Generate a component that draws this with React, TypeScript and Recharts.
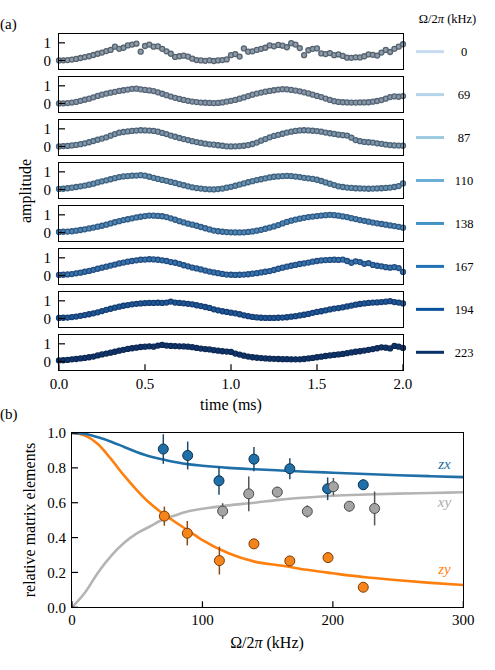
import React from "react";
import { ComposedChart, ErrorBar, Line, Scatter, ScatterChart, XAxis, YAxis } from "recharts";

const serif = "Liberation Serif, Tinos, Times New Roman, Times, DejaVu Serif, serif";

// ---- panel (a): population traces, one row per drive strength ----
const times = Array.from({ length: 81 }, (_, i) => (i * 25) / 1000);
const timeTicks = [0, 0.5, 1, 1.5, 2];
const drives = [0, 69, 87, 110, 138, 167, 194, 223];
const fitColors = ["#c6dbef", "#b6d4e9", "#9ecae1", "#6baed6", "#4292c6", "#2171b5", "#08519c", "#08306b"];
const markerFills = ["#8d9bab", "#8798aa", "#7f96ab", "#6a92b0", "#4f86b5", "#3574ad", "#1d5898", "#0f356c"];
const markerEdges = ["#56636f", "#566576", "#4d6478", "#3e627f", "#2f5a84", "#234d80", "#163d72", "#0c2853"];

const amp0 = [
  0.0, 0.01, 0.02, 0.05, 0.09, 0.14, 0.19, 0.24, 0.31, 0.38,
  0.45, 0.53, 0.6, 0.78, 0.66, 0.72, 0.85, 0.9, 0.95, 0.5,
  0.82, 0.9, 0.78, 0.8, 0.66, 0.52, 0.38, 0.2, 0.24, 0.27,
  0.22, 0.1, 0.02, 0.0, -0.02, 0.01, -0.03, 0.0, 0.02, 0.06,
  0.3, 0.36, 0.22, 0.68, 0.5, 0.52, 0.6, 0.66, 0.72, 0.85,
  0.8, 0.88, 0.84, 0.75, 0.98, 0.9, 0.7, 0.3, 0.58, 0.66,
  0.68, 0.4, 0.36, 0.42, 0.3, 0.34, 0.26, 0.16, 0.15, 0.18,
  0.17, 0.24, 0.34, 0.32, 0.28, 0.45, 0.6, 0.48, 0.66, 0.78,
  0.92
];
const amp1 = [
  0.0, 0.01, 0.02, 0.05, 0.09, 0.15, 0.21, 0.27, 0.35, 0.43,
  0.5, 0.56, 0.61, 0.66, 0.71, 0.75, 0.79, 0.83, 0.84, 0.8,
  0.77, 0.74, 0.7, 0.63, 0.55, 0.47, 0.39, 0.32, 0.26, 0.2,
  0.15, 0.11, 0.08, 0.05, 0.04, 0.03, 0.02, 0.03, 0.06, 0.11,
  0.15, 0.2, 0.27, 0.34, 0.42, 0.5, 0.56, 0.62, 0.67, 0.71,
  0.75, 0.79, 0.81, 0.8, 0.77, 0.73, 0.69, 0.63, 0.57, 0.5,
  0.43, 0.36, 0.28, 0.2, 0.13, 0.09, 0.07, 0.06, 0.05, 0.05,
  0.06, 0.06, 0.07, 0.1, 0.14, 0.19, 0.27, 0.36, 0.4, 0.38,
  0.42
];
const amp2 = [
  0.0, 0.02, 0.03, 0.06, 0.09, 0.13, 0.18, 0.24, 0.31, 0.38,
  0.45, 0.52, 0.61, 0.7, 0.78, 0.82, 0.85, 0.88, 0.9, 0.92,
  0.91, 0.9, 0.88, 0.84, 0.77, 0.7, 0.62, 0.55, 0.48, 0.42,
  0.36, 0.3, 0.25, 0.2, 0.16, 0.12, 0.1, 0.07, 0.04, 0.01,
  0.0, 0.01, 0.02, 0.04, 0.08, 0.14, 0.22, 0.33, 0.42, 0.52,
  0.6, 0.66, 0.72, 0.79, 0.84, 0.88, 0.91, 0.92, 0.91, 0.89,
  0.87, 0.84, 0.79, 0.75, 0.71, 0.67, 0.64, 0.62, 0.5, 0.36,
  0.3, 0.26, 0.24, 0.22, 0.18, 0.15, 0.11, 0.08, 0.06, 0.05,
  0.04
];
const amp3 = [
  0.03, 0.04, 0.07, 0.1, 0.14, 0.18, 0.22, 0.27, 0.33, 0.4,
  0.46, 0.52, 0.58, 0.64, 0.7, 0.74, 0.76, 0.78, 0.79, 0.81,
  0.78, 0.72, 0.66, 0.6, 0.54, 0.49, 0.43, 0.37, 0.3, 0.24,
  0.18, 0.12, 0.08, 0.05, 0.02, 0.01, 0.0, 0.02, 0.05, 0.1,
  0.15, 0.21, 0.28, 0.34, 0.41, 0.47, 0.53, 0.58, 0.63, 0.68,
  0.72, 0.74, 0.76, 0.77, 0.76, 0.73, 0.7, 0.66, 0.63, 0.6,
  0.55, 0.48, 0.4, 0.33, 0.25, 0.18, 0.14, 0.11, 0.09, 0.07,
  0.06, 0.05, 0.04, 0.05, 0.06, 0.07, 0.09, 0.11, 0.14, 0.19,
  0.34
];
const amp4 = [
  0.03, 0.04, 0.05, 0.07, 0.1, 0.14, 0.18, 0.23, 0.28, 0.33,
  0.38, 0.44, 0.51, 0.58, 0.64, 0.7, 0.75, 0.8, 0.85, 0.89,
  0.93, 0.96, 0.95, 0.94, 0.92, 0.87, 0.8, 0.72, 0.64, 0.57,
  0.5, 0.44, 0.38, 0.31, 0.24, 0.17, 0.11, 0.07, 0.04, 0.02,
  0.01, 0.0, 0.0, 0.01, 0.03, 0.06, 0.1, 0.15, 0.21, 0.28,
  0.34, 0.42, 0.51, 0.6, 0.67, 0.73, 0.78, 0.83, 0.87, 0.9,
  0.93, 0.96, 0.98, 1.0, 0.98, 0.95, 0.91, 0.87, 0.81, 0.76,
  0.7, 0.66, 0.61, 0.56, 0.52, 0.48, 0.44, 0.4, 0.36, 0.32,
  0.27
];
const amp5 = [
  0.03, 0.04, 0.06, 0.08, 0.12, 0.16, 0.21, 0.26, 0.32, 0.38,
  0.44, 0.5, 0.56, 0.62, 0.68, 0.73, 0.78, 0.82, 0.86, 0.89,
  0.9, 0.92, 0.91, 0.89, 0.86, 0.82, 0.76, 0.72, 0.66, 0.58,
  0.52, 0.45, 0.4, 0.34, 0.28, 0.22, 0.17, 0.13, 0.09, 0.05,
  0.04, 0.03, 0.04, 0.05, 0.07, 0.1, 0.13, 0.17, 0.21, 0.25,
  0.31, 0.38, 0.44, 0.5, 0.55, 0.6, 0.65, 0.69, 0.73, 0.78,
  0.82, 0.85, 0.87, 0.88, 0.89, 0.88, 0.9, 0.82, 0.72, 0.8,
  0.76, 0.66, 0.7, 0.6, 0.55, 0.52, 0.47, 0.44, 0.47, 0.42,
  0.2
];
const amp6 = [
  0.03, 0.04, 0.05, 0.08, 0.11, 0.15, 0.19, 0.24, 0.29, 0.35,
  0.42, 0.49, 0.55, 0.61, 0.67, 0.72, 0.76, 0.8, 0.83, 0.85,
  0.87, 0.88, 0.88, 0.89, 0.88, 0.9, 0.96, 0.9, 0.88, 0.86,
  0.83, 0.8, 0.75, 0.7, 0.65, 0.6, 0.52, 0.46, 0.41, 0.37,
  0.33, 0.29, 0.24, 0.18, 0.13, 0.09, 0.06, 0.04, 0.03, 0.03,
  0.03, 0.04, 0.05, 0.07, 0.1, 0.13, 0.17, 0.21, 0.26, 0.32,
  0.37, 0.41, 0.46, 0.51, 0.56, 0.59, 0.63, 0.68, 0.73, 0.78,
  0.82, 0.85, 0.88, 0.9, 0.91, 0.93, 0.95, 0.98, 0.93, 0.9,
  0.85
];
const amp7 = [
  0.06, 0.07, 0.09, 0.12, 0.14, 0.17, 0.2, 0.24, 0.28, 0.34,
  0.4, 0.45, 0.5, 0.55, 0.61, 0.66, 0.71, 0.75, 0.78, 0.82,
  0.84, 0.86, 0.84, 0.9, 0.94, 0.9, 0.88, 0.87, 0.86, 0.85,
  0.84, 0.81, 0.77, 0.73, 0.7, 0.68, 0.64, 0.61, 0.58, 0.56,
  0.54, 0.45, 0.39, 0.33, 0.28, 0.24, 0.21, 0.19, 0.17, 0.16,
  0.15, 0.14, 0.13, 0.13, 0.12, 0.12, 0.12, 0.14, 0.17, 0.2,
  0.24, 0.27, 0.31, 0.34, 0.37, 0.4, 0.43, 0.47, 0.51, 0.55,
  0.58, 0.62, 0.66, 0.7, 0.75, 0.8, 0.78, 0.74, 0.88, 0.84,
  0.77
];
const traces = [amp0, amp1, amp2, amp3, amp4, amp5, amp6, amp7];

// ---- panel (b): matrix elements vs drive ----
const zxOmega = [70, 88.7, 112.7, 139.5, 167, 196, 223.3];
const zxValue = [0.908, 0.871, 0.726, 0.85, 0.795, 0.68, 0.703];
const zxErr = [0.085, 0.08, 0.08, 0.07, 0.06, 0.065, 0.03];
const xyOmega = [115.5, 135.5, 157.4, 180.4, 200.4, 212.6, 232];
const xyValue = [0.552, 0.651, 0.661, 0.55, 0.692, 0.58, 0.567];
const xyErr = [0.045, 0.1, 0.03, 0.035, 0.05, 0.03, 0.097];
const zyOmega = [70.8, 88.4, 113, 139.5, 167, 196.3, 223.3];
const zyValue = [0.523, 0.425, 0.268, 0.364, 0.266, 0.285, 0.115];
const zyErr = [0.055, 0.07, 0.08, 0.015, 0.015, 0.015, 0.015];

const fitOmega = [0, 10, 20, 30, 40, 50, 60, 70, 80, 90, 100, 120, 140, 160, 180, 200, 225, 250, 275, 300];
const fitZx = [1.0, 0.995, 0.975, 0.95, 0.92, 0.89, 0.865, 0.848, 0.832, 0.82, 0.812, 0.8, 0.792, 0.785, 0.778, 0.772, 0.765, 0.758, 0.752, 0.747];
const fitXy = [0, 0.085, 0.2, 0.295, 0.37, 0.425, 0.465, 0.505, 0.53, 0.552, 0.565, 0.585, 0.6, 0.618, 0.63, 0.64, 0.647, 0.652, 0.656, 0.66];
const fitZy = [1.0, 0.985, 0.935, 0.85, 0.755, 0.67, 0.595, 0.536, 0.485, 0.435, 0.385, 0.31, 0.262, 0.24, 0.215, 0.195, 0.172, 0.155, 0.14, 0.128];
const omegaTicks = [0, 100, 200, 300];
const elementTicks = [0, 0.2, 0.4, 0.6, 0.8, 1.0];

const palette = {
  blue: "#1f6fa8",
  blueEdge: "#0b3350",
  orange: "#ff7f0e",
  orangeEdge: "#7a3c08",
  gray: "#b4b4b4",
  grayFill: "#a4a4a4",
  grayEdge: "#4a4a4a"
};

// layout (px, page coordinates)
const A_TOP = 34;
const A_PITCH = 42.95;
const A_H = 35.3;
const A_LEFT = 59;
const A_RIGHT = 403;
const A_XAXIS = 40;
const A_PAD = 20;
const B_TOP = 433;
const B_BOTTOM = 607.3;
const B_LEFT = 72;
const B_RIGHT = 463.3;
const TICK = 6;

const fitRows = fitOmega.map((x, i) => ({ x, zx: fitZx[i], xy: fitXy[i], zy: fitZy[i] }));
const pointRows = (xs: number[], ys: number[], es: number[]) => xs.map((x, i) => ({ x, y: ys[i], err: es[i] }));

const tickFont = { fontFamily: serif, fontSize: 15 };

function LeftTick(props: any) {
  const { x, y, payload, gap, digits } = props;
  const edge = x + gap;
  return (
    <g>
      <line x1={edge} x2={edge + TICK} y1={y} y2={y} stroke="#000" strokeWidth={1.2} />
      <text x={x} y={y} dy="0.35em" textAnchor="end" fill="#000" style={tickFont}>
        {Number(payload.value).toFixed(digits)}
      </text>
    </g>
  );
}

function BottomTick(props: any) {
  const { x, y, payload, gap, digits } = props;
  const edge = y - gap;
  return (
    <g>
      <line x1={x} x2={x} y1={edge} y2={edge - TICK} stroke="#000" strokeWidth={1.2} />
      <text x={x} y={y} dy="0.71em" textAnchor="middle" fill="#000" style={tickFont}>
        {Number(payload.value).toFixed(digits)}
      </text>
    </g>
  );
}

function Frame({ left, top, right, bottom }: { left: number; top: number; right: number; bottom: number }) {
  return (
    <div
      style={{
        position: "absolute",
        left: left - 0.8,
        top: top - 0.8,
        width: right - left + 1.6,
        height: bottom - top + 1.6,
        border: "1.6px solid #000",
        boxSizing: "border-box",
        pointerEvents: "none"
      }}
    />
  );
}

function TraceRow({ index }: { index: number }) {
  const top = A_TOP + index * A_PITCH;
  const last = index === traces.length - 1;
  const height = A_H + (last ? A_XAXIS : 0);
  const rows = times.map((t, i) => ({ t, v: traces[index][i] }));
  const fill = markerFills[index];
  const edge = markerEdges[index];

  return (
    <div style={{ position: "absolute", left: 0, top }}>
      <ScatterChart width={A_RIGHT + A_PAD} height={height} margin={{ top: 0, right: A_PAD, bottom: 0, left: 0 }}>
        <XAxis
          axisLine={false}
          dataKey="t"
          domain={[0, 2]}
          height={A_XAXIS}
          hide={!last}
          interval={0}
          tick={(p: any) => <BottomTick {...p} gap={8} digits={1} />}
          tickLine={false}
          tickMargin={8}
          tickSize={0}
          ticks={timeTicks}
          type="number"
        />
        <YAxis
          axisLine={false}
          dataKey="v"
          domain={[-0.5, 1.5]}
          interval={0}
          tick={(p: any) => <LeftTick {...p} gap={8} digits={0} />}
          tickLine={false}
          tickMargin={8}
          tickSize={0}
          ticks={[0, 1]}
          type="number"
          width={A_LEFT}
        />
        <Scatter
          data={rows}
          isAnimationActive={false}
          shape={(p: any) => <circle cx={p.cx} cy={p.cy} r={2.5} fill={fill} stroke={edge} strokeWidth={1.3} />}
        />
      </ScatterChart>
    </div>
  );
}

function dot(fill: string, stroke: string) {
  return (p: any) => <circle cx={p.cx} cy={p.cy} r={5} fill={fill} stroke={stroke} strokeWidth={1} />;
}

function MatrixPanel() {
  const chartTop = B_TOP - 8;
  const height = 240;
  return (
    <div style={{ position: "absolute", left: 0, top: chartTop }}>
      <ComposedChart width={495} height={height} margin={{ top: 8, right: 495 - B_RIGHT, bottom: 0, left: 0 }}>
        <XAxis
          allowDataOverflow
          axisLine={false}
          dataKey="x"
          domain={[0, 300]}
          height={height - 8 - (B_BOTTOM - B_TOP)}
          interval={0}
          tick={(p: any) => <BottomTick {...p} gap={7} digits={0} />}
          tickLine={false}
          tickMargin={7}
          tickSize={0}
          ticks={omegaTicks}
          type="number"
        />
        <YAxis
          allowDataOverflow
          axisLine={false}
          domain={[0, 1]}
          interval={0}
          tick={(p: any) => <LeftTick {...p} gap={6} digits={1} />}
          tickLine={false}
          tickMargin={6}
          tickSize={0}
          ticks={elementTicks}
          type="number"
          width={B_LEFT}
        />
        <Line data={fitRows} dataKey="xy" dot={false} isAnimationActive={false} stroke={palette.gray} strokeWidth={2.6} type="monotone" />
        <Line data={fitRows} dataKey="zy" dot={false} isAnimationActive={false} stroke={palette.orange} strokeWidth={2.6} type="monotone" />
        <Line data={fitRows} dataKey="zx" dot={false} isAnimationActive={false} stroke={palette.blue} strokeWidth={2.6} type="monotone" />
        <Scatter data={pointRows(zxOmega, zxValue, zxErr)} dataKey="y" isAnimationActive={false} shape={dot(palette.blue, palette.blueEdge)}>
          <ErrorBar dataKey="err" direction="y" stroke="#1d4a70" strokeWidth={1.5} width={0} />
        </Scatter>
        <Scatter data={pointRows(xyOmega, xyValue, xyErr)} dataKey="y" isAnimationActive={false} shape={dot(palette.grayFill, palette.grayEdge)}>
          <ErrorBar dataKey="err" direction="y" stroke="#555" strokeWidth={1.5} width={0} />
        </Scatter>
        <Scatter data={pointRows(zyOmega, zyValue, zyErr)} dataKey="y" isAnimationActive={false} shape={dot("#f5841a", palette.orangeEdge)}>
          <ErrorBar dataKey="err" direction="y" stroke="#8a4a12" strokeWidth={1.5} width={0} />
        </Scatter>
      </ComposedChart>
    </div>
  );
}

export default function App() {
  const text = { fill: "#000", style: { fontFamily: serif } };
  const italic = { fontFamily: serif, fontStyle: "italic" as const };
  return (
    <div style={{ position: "absolute", left: 0, top: 0, width: 495, height: 670, background: "#fff", overflow: "hidden", fontFamily: serif }}>
      {traces.map((_, i) => (
        <TraceRow index={i} key={drives[i]} />
      ))}
      {traces.map((_, i) => (
        <Frame key={`f${i}`} left={A_LEFT} right={A_RIGHT} top={A_TOP + i * A_PITCH} bottom={A_TOP + i * A_PITCH + A_H} />
      ))}
      <MatrixPanel />
      <Frame left={B_LEFT} right={B_RIGHT} top={B_TOP} bottom={B_BOTTOM} />
      <svg width={495} height={670} style={{ position: "absolute", left: 0, top: 0, pointerEvents: "none" }}>
        <text {...text} x={0} y={29} fontSize={15}>(a)</text>
        <text {...text} x={0} y={419} fontSize={15}>(b)</text>
        <text {...text} fontSize={16} textAnchor="middle" transform="translate(31 191) rotate(-90)">amplitude</text>
        <text {...text} x={231} y={410} fontSize={16} textAnchor="middle">time (ms)</text>
        <text {...text} fontSize={16} textAnchor="middle" transform="translate(35 520) rotate(-90)">relative matrix elements</text>
        <text {...text} x={267} y={648} fontSize={16} textAnchor="middle">
          Ω/2<tspan style={italic}>π</tspan> (kHz)
        </text>
        <text {...text} x={447.5} y={23} fontSize={12.5} textAnchor="middle">
          Ω/2<tspan style={italic}>π</tspan> (kHz)
        </text>
        {drives.map((d, i) => {
          const cy = A_TOP + i * A_PITCH + A_H / 2;
          return (
            <g key={`l${d}`}>
              <line x1={416} x2={444} y1={cy} y2={cy} stroke={fitColors[i]} strokeWidth={3} />
              <text {...text} x={464} y={cy + 4.3} fontSize={12.5} textAnchor="middle">{d}</text>
            </g>
          );
        })}
        <text x={444.5} y={469} fontSize={15} style={italic} fill={palette.blue} textAnchor="middle">zx</text>
        <text x={444.5} y={507} fontSize={15} style={italic} fill="#aaaaaa" textAnchor="middle">xy</text>
        <text x={444.5} y={574} fontSize={15} style={italic} fill={palette.orange} textAnchor="middle">zy</text>
      </svg>
    </div>
  );
}
